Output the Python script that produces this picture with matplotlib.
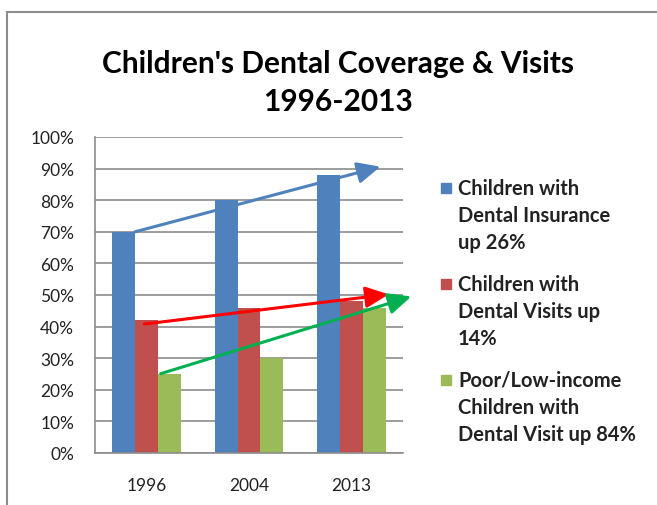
import matplotlib.pyplot as plt
import numpy as np
from matplotlib.patches import Rectangle

years = ['1996', '2004', '2013']
insurance = [70, 80, 88]
visits = [42, 46, 48]
low_income = [25, 30, 46]

labels = ['Children with\nDental Insurance\nup 26%',
          'Children with\nDental Visits up\n14%',
          'Poor/Low-income\nChildren with\nDental Visit up 84%']
colors = ['#4f81bd', '#c0504d', '#9bbb59']

# trend arrows: (x0, y0, x1, y1) in data units
arrows = [(-0.11, 70, 2.28, 90.6, '#4f81bd'),
          (-0.02, 40.8, 2.36, 50.2, '#ff0000'),
          (0.14, 25.1, 2.58, 49.5, '#00b050')]

plt.rcParams['font.family'] = ['Lato', 'DejaVu Sans']

fig = plt.figure(figsize=(6.57, 5.06), dpi=100)
ax = fig.add_axes([0.1446, 0.1028, 0.4688, 0.6245])

x = np.arange(len(years))
w = 0.222
for i, vals in enumerate([insurance, visits, low_income]):
    ax.bar(x + (i - 1) * w, vals, w, color=colors[i], zorder=2)

ax.set_xlim(-0.5, 2.5)
ax.set_ylim(0, 100)
ax.set_yticks(range(0, 101, 10))
ax.set_yticklabels(['%d%%' % v for v in range(0, 101, 10)])
ax.set_xticks(x)
ax.set_xticklabels(years)
ax.tick_params(length=0, labelsize=12.5, colors='#222222')
ax.tick_params(axis='y', pad=15)
ax.tick_params(axis='x', pad=17)
ax.grid(axis='y', color='#8c8c8c', linewidth=1.2, zorder=0)
for s in ['top', 'right']:
    ax.spines[s].set_visible(False)
for s in ['left', 'bottom']:
    ax.spines[s].set_color('#8c8c8c')
    ax.spines[s].set_linewidth(1.2)

for x0, y0, x1, y1, c in arrows:
    ax.annotate('', xy=(x1, y1), xytext=(x0, y0), annotation_clip=False,
                arrowprops=dict(arrowstyle='-|>,head_length=1.4,head_width=0.65',
                                color=c, lw=2.2, shrinkA=0, shrinkB=0), zorder=3)

fig.text(0.514, 1 - 83 / 506, "Children's Dental Coverage & Visits\n1996-2013",
         ha='center', va='center', fontsize=21.5, fontweight='bold',
         linespacing=1.4)

# legend
for i, lab in enumerate(labels):
    ytop = 1 - (179 + i * 96) / 506
    fig.patches.append(Rectangle((441 / 657, ytop - 15 / 506), 10 / 657, 10 / 506,
                                 transform=fig.transFigure, color=colors[i]))
    fig.text(458 / 657, ytop, lab, ha='left', va='top', fontsize=14.5,
             fontweight='bold', linespacing=1.45, color='#222222')

# outer chart border
fig.patches.append(Rectangle((7 / 657, -0.1), 1.2, 1 - 13 / 506 + 0.1,
                             transform=fig.transFigure, fill=False,
                             edgecolor='#8c8c8c', linewidth=1.5))

plt.savefig('out.png', dpi=100)
